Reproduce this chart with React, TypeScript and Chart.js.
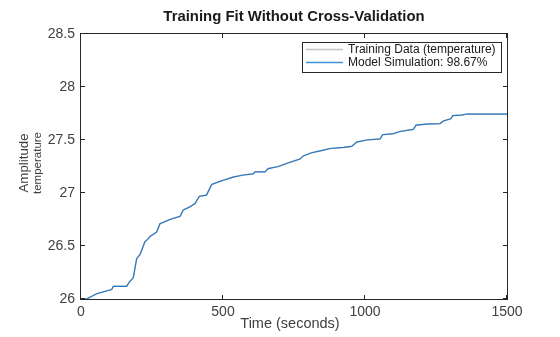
import React, { useEffect, useRef } from 'react';
import { Chart, registerables } from 'chart.js';

Chart.register(...registerables);

// ---- data ----
const timeSec = [
  0, 20, 55, 108, 114, 161, 170, 184, 196, 208, 225, 237, 243, 266, 278, 313, 349, 360, 384, 401,
  417, 442, 460, 489, 501, 536, 571, 606, 613, 648, 659, 695, 736, 771, 783, 812, 847, 877, 924, 953,
  971, 1006, 1053, 1062, 1100, 1123, 1170, 1180, 1217, 1264, 1276, 1302, 1309, 1340, 1358, 1500,
];
const modelSim = [
  26.0, 26.0, 26.05, 26.09, 26.12, 26.12, 26.16, 26.2, 26.38, 26.42, 26.54, 26.57, 26.59, 26.63, 26.71,
  26.75, 26.78, 26.84, 26.87, 26.9, 26.97, 26.98, 27.08, 27.11, 27.12, 27.15, 27.17, 27.18, 27.2, 27.2,
  27.23, 27.25, 27.29, 27.32, 27.35, 27.38, 27.4, 27.42, 27.43, 27.44, 27.48, 27.5, 27.51, 27.55, 27.56,
  27.58, 27.6, 27.64, 27.65, 27.655, 27.68, 27.7, 27.73, 27.735, 27.745, 27.745,
];
const trainingData = [
  26.0, 26.0, 26.05, 26.09, 26.12, 26.12, 26.16, 26.2, 26.38, 26.42, 26.54, 26.57, 26.59, 26.63, 26.71,
  26.75, 26.78, 26.84, 26.87, 26.9, 26.97, 26.98, 27.08, 27.11, 27.12, 27.15, 27.17, 27.18, 27.2, 27.2,
  27.23, 27.25, 27.29, 27.32, 27.35, 27.38, 27.4, 27.42, 27.43, 27.44, 27.48, 27.5, 27.51, 27.55, 27.56,
  27.58, 27.6, 27.64, 27.65, 27.655, 27.68, 27.7, 27.73, 27.735, 27.745, 27.745,
];
const xTicks = [0, 500, 1000, 1500];
const yTicks = [26, 26.5, 27, 27.5, 28, 28.5];
const titleText = 'Training Fit Without Cross-Validation';
const xLabel = 'Time (seconds)';
const yLabel = 'Amplitude';
const ySubLabel = 'temperature';
const legendLabels = ['Training Data (temperature)', 'Model Simulation: 98.67%'];

const FONT = "'Liberation Sans', Arial, Helvetica, sans-serif";
const AXIS_COLOR = '#262626';
const TEXT_COLOR = '#404040';
const BLUE = '#2a78c2';
const GRAY = '#c4c4c4';

const decorPlugin = {
  id: 'decor',
  afterDraw(chart: any) {
    const { ctx, chartArea: a, scales } = chart;
    ctx.save();
    // axes box
    ctx.strokeStyle = AXIS_COLOR;
    ctx.lineWidth = 1;
    ctx.strokeRect(a.left - 0.5, a.top - 0.5, a.right - a.left + 1, a.bottom - a.top + 1);
    // inward ticks
    const tl = 4;
    ctx.beginPath();
    xTicks.forEach((v) => {
      const px = Math.round(scales.x.getPixelForValue(v)) - 0.5;
      ctx.moveTo(px, a.bottom);
      ctx.lineTo(px, a.bottom - tl);
      ctx.moveTo(px, a.top);
      ctx.lineTo(px, a.top + tl);
    });
    yTicks.forEach((v) => {
      const py = Math.round(scales.y.getPixelForValue(v)) - 0.5;
      ctx.moveTo(a.left, py);
      ctx.lineTo(a.left + tl, py);
      ctx.moveTo(a.right, py);
      ctx.lineTo(a.right - tl, py);
    });
    ctx.stroke();

    // title
    ctx.fillStyle = '#1a1a1a';
    ctx.font = `bold 14.9px ${FONT}`;
    ctx.textAlign = 'center';
    ctx.textBaseline = 'middle';
    ctx.fillText(titleText, (a.left + a.right) / 2, 17);

    // x label
    ctx.fillStyle = TEXT_COLOR;
    ctx.font = `14.5px ${FONT}`;
    ctx.fillText(xLabel, 290, 324);

    // y labels
    ctx.save();
    ctx.translate(24.5, 163);
    ctx.rotate(-Math.PI / 2);
    ctx.font = `13.3px ${FONT}`;
    ctx.fillText(yLabel, 0, 0);
    ctx.restore();
    ctx.save();
    ctx.translate(38, 163);
    ctx.rotate(-Math.PI / 2);
    ctx.font = `11.5px ${FONT}`;
    ctx.fillText(ySubLabel, 0, 0);
    ctx.restore();

    // legend
    const lx = 302, ly = 42, lw = 199, lh = 30;
    ctx.fillStyle = '#ffffff';
    ctx.fillRect(lx, ly, lw, lh);
    ctx.strokeStyle = AXIS_COLOR;
    ctx.strokeRect(lx + 0.5, ly + 0.5, lw, lh);
    const rows = [
      { c: GRAY, y: 49.5, w: 1.5 },
      { c: '#3f90d6', y: 62.5, w: 1.3 },
    ];
    rows.forEach((r, i) => {
      ctx.strokeStyle = r.c;
      ctx.lineWidth = r.w;
      ctx.beginPath();
      ctx.moveTo(306, r.y);
      ctx.lineTo(343, r.y);
      ctx.stroke();
      ctx.fillStyle = '#1a1a1a';
      ctx.font = `12px ${FONT}`;
      ctx.textAlign = 'left';
      ctx.textBaseline = 'middle';
      ctx.fillText(legendLabels[i], 348, r.y);
    });
    ctx.restore();
  },
};

export default function App() {
  const ref = useRef<HTMLCanvasElement | null>(null);
  useEffect(() => {
    document.body.style.margin = '0';
    const canvas = ref.current;
    if (!canvas) return;
    const chart = new Chart(canvas, {
      type: 'line',
      data: {
        datasets: [
          {
            label: legendLabels[1],
            data: timeSec.map((t, i) => ({ x: t, y: modelSim[i] })),
            borderColor: BLUE,
            borderWidth: 1.2,
            pointRadius: 0,
            tension: 0,
            order: 0,
          },
          {
            label: legendLabels[0],
            data: timeSec.map((t, i) => ({ x: t, y: trainingData[i] })),
            borderColor: GRAY,
            borderWidth: 1.5,
            pointRadius: 0,
            tension: 0,
            order: 1,
          },
        ],
      },
      options: {
        animation: false,
        responsive: false,
        devicePixelRatio: 1,
        layout: { padding: { top: 34, right: 53, left: 0, bottom: 0 } },
        plugins: {
          legend: { display: false },
          title: { display: false },
          tooltip: { enabled: false },
        },
        scales: {
          x: {
            type: 'linear',
            min: 0,
            max: 1500,
            afterFit: (s: any) => {
              s.height = 38;
            },
            afterBuildTicks: (s: any) => {
              s.ticks = xTicks.map((v) => ({ value: v }));
            },
            grid: { display: false, drawTicks: false, tickLength: 0 },
            border: { display: false },
            ticks: {
              padding: 5,
              color: TEXT_COLOR,
              font: { family: FONT, size: 14 },
              maxRotation: 0,
              callback: (v: any) => String(v),
            },
          },
          y: {
            type: 'linear',
            min: 26,
            max: 28.5,
            afterFit: (s: any) => {
              s.width = 81;
            },
            afterBuildTicks: (s: any) => {
              s.ticks = yTicks.map((v) => ({ value: v }));
            },
            grid: { display: false, drawTicks: false, tickLength: 0 },
            border: { display: false },
            ticks: {
              padding: 6,
              color: TEXT_COLOR,
              font: { family: FONT, size: 14 },
              callback: (v: any) => String(v),
            },
          },
        },
      },
      plugins: [decorPlugin],
    } as any);
    return () => chart.destroy();
  }, []);
  return (
    <div style={{ width: 560, height: 337, background: '#ffffff' }}>
      <canvas ref={ref} width={560} height={337} style={{ display: 'block' }} />
    </div>
  );
}
